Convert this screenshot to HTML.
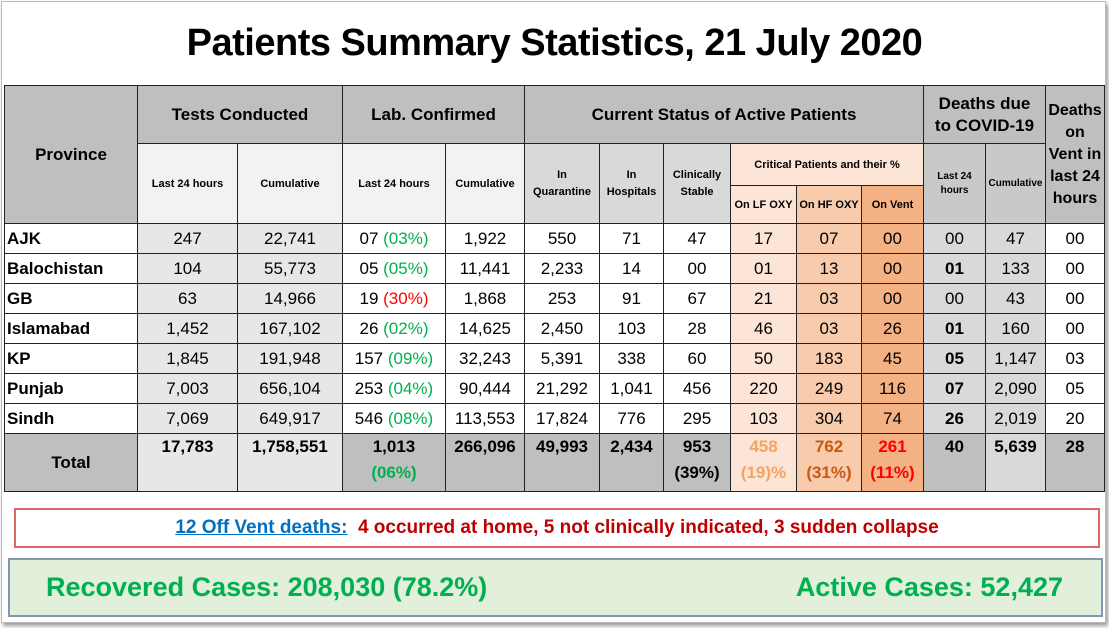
<!DOCTYPE html>
<html><head><meta charset="utf-8"><style>
body{margin:0;width:1109px;height:628px;background:#fff;overflow:hidden;font-family:"Liberation Sans",sans-serif;position:relative}
#frame{position:absolute;left:1px;top:1px;width:1103px;height:620px;border:1px solid #bbb;box-shadow:2px 3px 4px #999}
#title{position:absolute;left:0;top:22px;width:1109px;text-align:center;font-weight:bold;font-size:38px;color:#000;letter-spacing:-0.5px}
table{position:absolute;left:4px;top:85px;border-collapse:collapse;table-layout:fixed}
td{border:1.5px solid #222;text-align:center;padding:0;font-size:17px;color:#000;overflow:hidden;white-space:nowrap}
.h{background:#bfbfbf;font-weight:bold;font-size:17px}
.s{background:#f2f2f2;font-weight:bold;font-size:11px}
.sd{background:#d9d9d9;font-weight:bold;font-size:11px}
.lf{background:#fce4d6}.hf{background:#f8cbad}.vt{background:#f4b183}
.g1{background:#e7e7e7}.g2{background:#d9d9d9}.g3{background:#bfbfbf}
.p{text-align:left;font-weight:bold;padding-left:2px}
tr.d{height:30px}
.gr{color:#00b050}.rd{color:#ff0000}
#note{position:absolute;left:14px;top:508px;width:1082px;height:36px;border:2px solid #e06666;text-align:center;font-size:19px;font-weight:bold;line-height:36px;color:#c00000}
#note u{color:#0070c0}
#rec{position:absolute;left:8px;top:558px;width:1091px;height:55px;border:2px solid #8497b0;background:#e2efda;color:#00b050;font-weight:bold;font-size:27px;line-height:55px}
</style></head><body>
<div id="frame"></div>
<div id="title">Patients Summary Statistics, 21 July 2020</div>
<table>
<colgroup><col style="width:133px"><col style="width:100px"><col style="width:105px"><col style="width:103px"><col style="width:79px"><col style="width:75px"><col style="width:64px"><col style="width:67px"><col style="width:66px"><col style="width:65px"><col style="width:62px"><col style="width:62px"><col style="width:60px"><col style="width:59px"></colgroup>
<tr style="height:58px">
<td class="h" rowspan="3">Province</td>
<td class="h" colspan="2">Tests Conducted</td>
<td class="h" colspan="2">Lab. Confirmed</td>
<td class="h" colspan="6">Current Status of Active Patients</td>
<td class="h" colspan="2" style="line-height:22px">Deaths due<br>to COVID-19</td>
<td class="h" rowspan="3" style="font-size:16px;line-height:22px">Deaths<br>on<br>Vent in<br>last 24<br>hours</td>
</tr>
<tr style="height:42px">
<td class="s" rowspan="2">Last 24 hours</td>
<td class="s" rowspan="2">Cumulative</td>
<td class="s" rowspan="2">Last 24 hours</td>
<td class="s" rowspan="2">Cumulative</td>
<td class="sd" rowspan="2" style="line-height:17px">In<br>Quarantine</td>
<td class="sd" rowspan="2" style="line-height:17px">In<br>Hospitals</td>
<td class="sd" rowspan="2" style="line-height:17px">Clinically<br>Stable</td>
<td class="s lf" colspan="3">Critical Patients and their %</td>
<td class="s" rowspan="2" style="background:#c9c9c9;font-size:10px;line-height:14px">Last 24<br>hours</td>
<td class="s" rowspan="2" style="background:#c9c9c9;font-size:10px">Cumulative</td>
</tr>
<tr style="height:38px">
<td class="s lf">On LF OXY</td>
<td class="s hf">On HF OXY</td>
<td class="s vt">On Vent</td>
</tr>
<tbody id="body"></tbody>
</table>
<div id="note"><u>12 Off Vent deaths:</u>&nbsp; 4 occurred at home, 5 not clinically indicated, 3 sudden collapse</div>
<div id="rec"><span style="position:absolute;left:36px">Recovered Cases: 208,030 (78.2%)</span><span style="position:absolute;right:38px">Active Cases: 52,427</span></div>
<script>
const provinces=["AJK","Balochistan","GB","Islamabad","KP","Punjab","Sindh"];
const testsLast24=["247","104","63","1,452","1,845","7,003","7,069"];
const testsCum=["22,741","55,773","14,966","167,102","191,948","656,104","649,917"];
const labLast24=["07","05","19","26","157","253","546"];
const labPct=["03%","05%","30%","02%","09%","04%","08%"];
const labCum=["1,922","11,441","1,868","14,625","32,243","90,444","113,553"];
const quarantine=["550","2,233","253","2,450","5,391","21,292","17,824"];
const hospitals=["71","14","91","103","338","1,041","776"];
const stable=["47","00","67","28","60","456","295"];
const lfOxy=["17","01","21","46","50","220","103"];
const hfOxy=["07","13","03","03","183","249","304"];
const vent=["00","00","00","26","45","116","74"];
const deaths24=["00","01","00","01","05","07","26"];
const deathsCum=["47","133","43","160","1,147","2,090","2,019"];
const ventDeaths=["00","00","00","00","03","05","20"];
const body=document.getElementById('body');
function cell(tr,html,cls,name){const td=document.createElement('td');td.innerHTML=html;if(cls)td.className=cls;


tr.appendChild(td);return td;}
provinces.forEach((p,i)=>{
 const tr=document.createElement('tr');tr.className='d';
 
 
 cell(tr,p,'p','province-name');
 cell(tr,testsLast24[i],'g1','tests-last24');
 cell(tr,testsCum[i],'g1','tests-cumulative');
 cell(tr,labLast24[i]+' <span class="'+(labPct[i]==='30%'?'rd':'gr')+'">('+labPct[i]+')</span>','','lab-last24');
 cell(tr,labCum[i],'','lab-cumulative');
 cell(tr,quarantine[i],'','in-quarantine');
 cell(tr,hospitals[i],'','in-hospitals');
 cell(tr,stable[i],'','clinically-stable');
 cell(tr,lfOxy[i],'lf','on-lf-oxy');
 cell(tr,hfOxy[i],'hf','on-hf-oxy');
 cell(tr,vent[i],'vt','on-vent');
 const d=cell(tr,deaths24[i],'g2','deaths-last24');if(deaths24[i]!=='00')d.style.fontWeight='bold';
 cell(tr,deathsCum[i],'g2','deaths-cumulative');
 cell(tr,ventDeaths[i],'','vent-deaths');
 body.appendChild(tr);
});
const totals=["17,783","1,758,551","1,013<br><span class='gr'>(06%)</span>","266,096","49,993","2,434","953<br>(39%)","<span style='color:#f4a460'>458<br>(19)%</span>","<span style='color:#c55a11'>762<br>(31%)</span>","<span class='rd'>261<br>(11%)</span>","40","5,639","28"];
const tcls=['g1','g1','g3','g3','g3','g3','g3','lf','hf','vt','g3','g2','g3'];
const tr=document.createElement('tr');tr.style.height='58px';


cell(tr,'Total','g3','total-label').style.fontWeight='bold';
totals.forEach((t,i)=>{const c=cell(tr,t,tcls[i],'total-value');c.style.fontWeight='bold';c.style.verticalAlign='top';c.style.lineHeight='26px';});
body.appendChild(tr);
</script>
</body></html>
